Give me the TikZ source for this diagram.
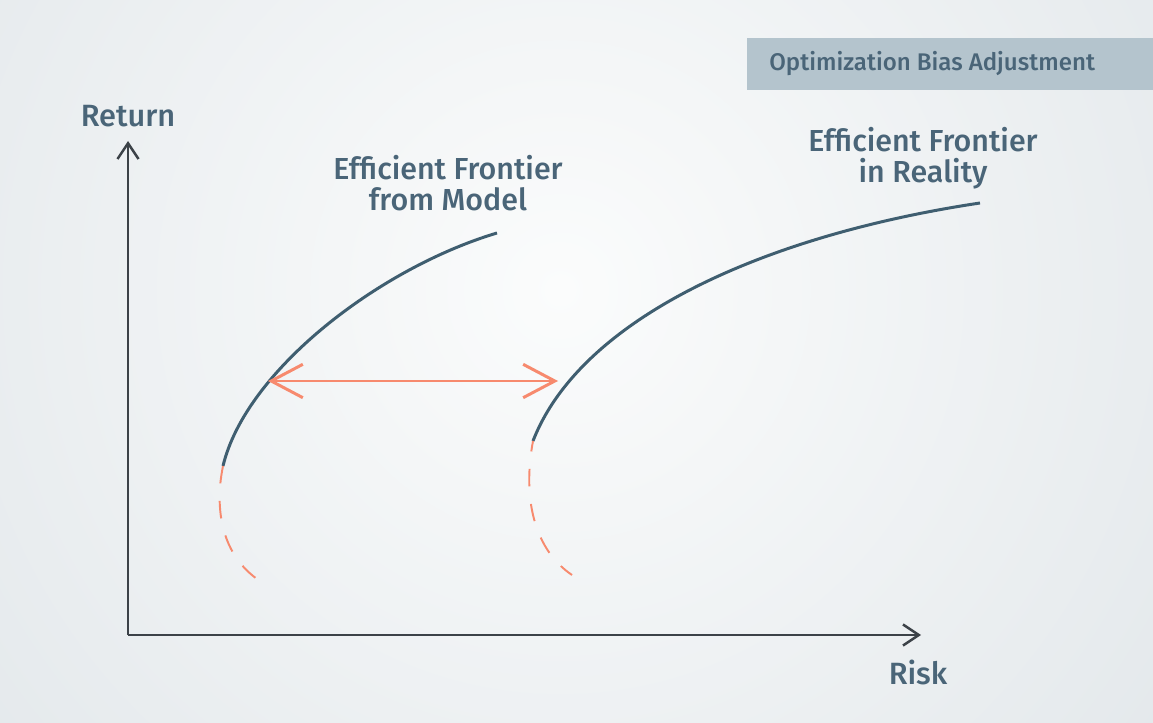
\documentclass[tikz,border=0pt]{standalone}
\usepackage{fontspec}
\setmainfont{Fira Sans}[UprightFont={* Medium}]
\usetikzlibrary{arrows.meta}
\definecolor{bgin}{RGB}{251,252,252}
\definecolor{bgout}{RGB}{220,226,230}
\definecolor{textcol}{RGB}{74,101,120}
\definecolor{axiscol}{RGB}{60,66,72}
\definecolor{curvecol}{RGB}{63,94,112}
\definecolor{orangecol}{RGB}{247,138,110}
\definecolor{boxcol}{RGB}{180,196,205}
\tikzset{
  axis/.style={draw=axiscol, line width=1.4pt, -{Straight Barb[length=9pt, width=12pt]}},
  frontier/.style={draw=curvecol, line width=1.7pt},
  extension/.style={draw=orangecol, line width=1.1pt, dash pattern=on 10pt off 10pt},
  shift arrow/.style={draw=orangecol, line width=1.7pt, {Straight Barb[length=18pt, width=19pt]}-{Straight Barb[length=18pt, width=19pt]}},
  label/.style={text=textcol, align=center, font=\fontsize{17.3}{17.5}\selectfont, inner sep=0pt},
  axis label/.style={text=textcol, font=\fontsize{17.5}{20}\selectfont, inner sep=0pt}
}
\begin{document}
\begin{tikzpicture}[x=0.02cm, y=-0.02cm]
\useasboundingbox (0,0) rectangle (1153,723);
\begin{scope}
\clip (0,0) rectangle (1153,723);
\fill[bgout] (0,0) rectangle (1153,723);
\shade[inner color=bgin, outer color=bgout] (560,290) circle (1000);
\end{scope}
% title
\fill[boxcol] (747,38) rectangle (1153,90);
\node (title) [anchor=west, text=textcol, inner sep=0pt, font=\fontsize{13.7}{15}\selectfont] at (769,64) {Optimization Bias Adjustment};
% axes
\coordinate (origin) at (128,635);
\coordinate (ytip) at (128,141);
\coordinate (xtip) at (921,635);
\draw[axis] (origin) -- (ytip);
\draw[axis] (origin) -- (xtip);
\node (return) [axis label] at (128,116) {Return};
\node (risk) [axis label] at (918,672) {Risk};
% frontier from model
\coordinate (m1) at (223,466);
\coordinate (m2) at (497,233);
\coordinate (m0) at (260,581);
\draw[frontier] (m1) .. controls (246,370) and (380,268) .. (m2);
\draw[extension] (m1) .. controls (214,510) and (222,556) .. (m0);
\node (model) [label] at (448,183) {Efficient Frontier\\from Model};
% frontier in reality
\coordinate (r1) at (533,441);
\coordinate (r2) at (980,203);
\coordinate (r0) at (572,575);
\draw[frontier] (r1) .. controls (580,320) and (760,236) .. (r2);
\draw[extension, dash phase=4pt] (r1) .. controls (522,500) and (535,550) .. (r0);
\node (reality) [label] at (923,158) {Efficient Frontier\\in Reality};
% shift
\coordinate (sl) at (268,381);
\coordinate (sr) at (558,381);
\draw[shift arrow] (sl) -- (sr);
\end{tikzpicture}
\end{document}
